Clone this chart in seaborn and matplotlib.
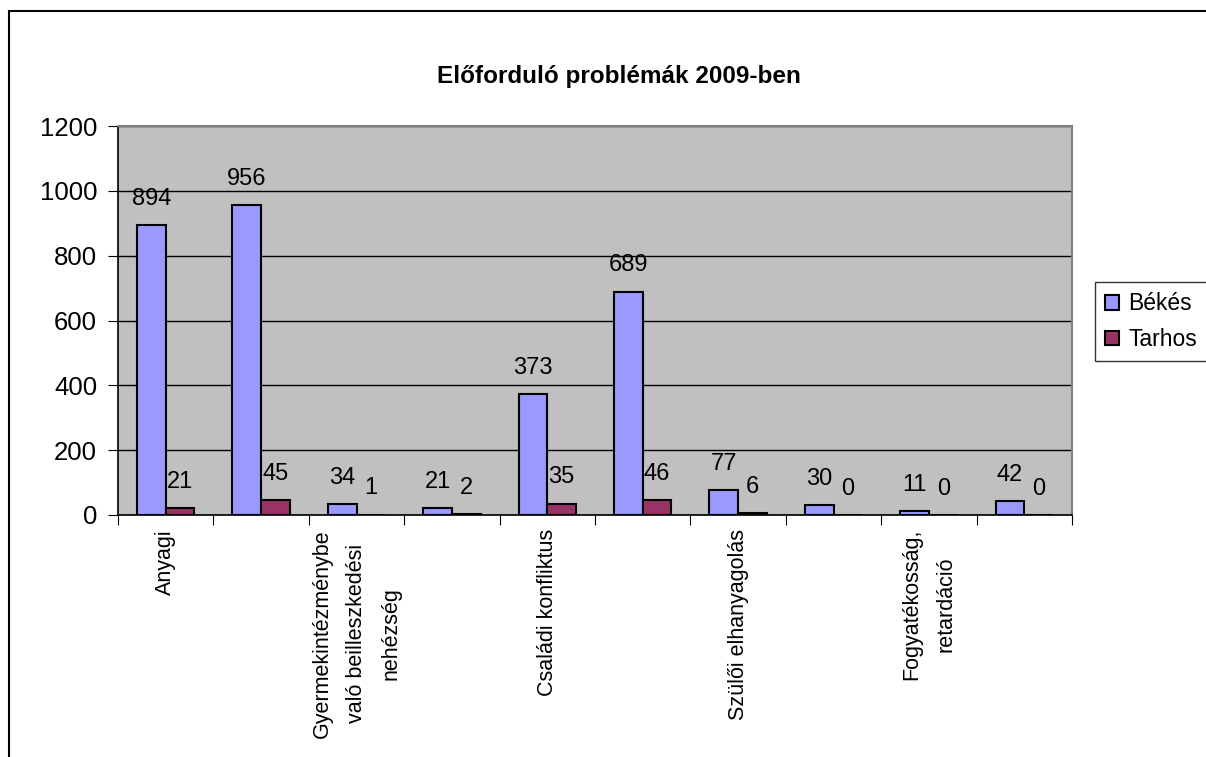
import numpy as np
import pandas as pd
import matplotlib
matplotlib.use("Agg")
import matplotlib.pyplot as plt
import seaborn as sns
from matplotlib.patches import Rectangle

# Adatok
kategoriak = ["Anyagi", "k2", "Gyermekintézménybe\nvaló beilleszkedési\nnehézség", "k4",
              "Családi konfliktus", "k6", "Szülői elhanyagolás", "k8",
              "Fogyatékosság,\nretardáció", "k10"]
# a rejtett kategórianevek nem látszanak a képen
tick_feliratok = ["Anyagi", "", "Gyermekintézménybe\nvaló beilleszkedési\nnehézség", "",
                  "Családi konfliktus", "", "Szülői elhanyagolás", "",
                  "Fogyatékosság,\nretardáció", ""]
bekes = [894, 956, 34, 21, 373, 689, 77, 30, 11, 42]
tarhos = [21, 45, 1, 2, 35, 46, 6, 0, 0, 0]
sorozatok = ["Békés", "Tarhos"]
szinek = ["#9999FF", "#993366"]

df = pd.DataFrame({
    "kategoria": kategoriak * 2,
    "ertek": bekes + tarhos,
    "telepules": [sorozatok[0]] * len(bekes) + [sorozatok[1]] * len(tarhos),
})

plt.rcParams["font.family"] = ["Liberation Sans", "DejaVu Sans"]

fig = plt.figure(figsize=(12.06, 7.57), dpi=100)
ax = fig.add_axes([118 / 1206, 1 - 515 / 757, (1072 - 118) / 1206, (515 - 126) / 757])
ax.set_facecolor("#C0C0C0")
ax.set_axisbelow(True)

sns.barplot(data=df, x="kategoria", y="ertek", hue="telepules", order=kategoriak,
            hue_order=sorozatok, palette=szinek, width=0.6, edgecolor="black",
            linewidth=1.5, saturation=1, ax=ax)

for cont in ax.containers:
    ax.bar_label(cont, padding=11, fontsize=17)

ax.set_ylim(0, 1200)
ax.set_yticks(np.arange(0, 1201, 200))
ax.yaxis.grid(True, color="black", linewidth=1)
ax.tick_params(axis="y", labelsize=18.5, length=7, direction="out", color="black", pad=8)

# Excel-szerű tengely: jelölők a kategóriahatárokon, feliratok középen
ax.set_xlim(-0.5, len(kategoriak) - 0.5)
ax.set_xticks(np.arange(-0.5, len(kategoriak), 1))
ax.set_xticklabels([])
ax.set_xticks(np.arange(len(kategoriak)), minor=True)
ax.set_xticklabels(tick_feliratok, minor=True, rotation=90, fontsize=15.5,
                   multialignment="center", linespacing=1.85)
ax.tick_params(axis="x", which="major", length=7, direction="out", color="black")
ax.tick_params(axis="x", which="minor", length=0, pad=10)
ax.set_xlabel("")
ax.set_ylabel("")

for s in ["left", "bottom"]:
    ax.spines[s].set_color("black")
    ax.spines[s].set_linewidth(1.2)
for s in ["top", "right"]:
    ax.spines[s].set_color("#808080")
    ax.spines[s].set_linewidth(1.5)

handles, labels = ax.get_legend_handles_labels()
ax.get_legend().remove()
leg = fig.legend(handles, labels, loc="upper left", bbox_to_anchor=(1095 / 1206, 1 - 282 / 757),
                 borderaxespad=0, fontsize=16.5, frameon=True, fancybox=False,
                 edgecolor="black", handlelength=0.6, handleheight=0.6, handletextpad=0.4,
                 borderpad=0.45, labelspacing=0.55)
leg.get_frame().set_linewidth(1)

fig.text(0.513, 1 - 76 / 757, "Előforduló problémák 2009-ben", ha="center", va="center",
         fontsize=17.5, fontweight="bold")

fig.patches.append(Rectangle((9 / 1206, -0.1), 2, 1.1 - 11 / 757, transform=fig.transFigure,
                             fill=False, edgecolor="black", linewidth=1.5))

plt.savefig("out.png", dpi=100)
